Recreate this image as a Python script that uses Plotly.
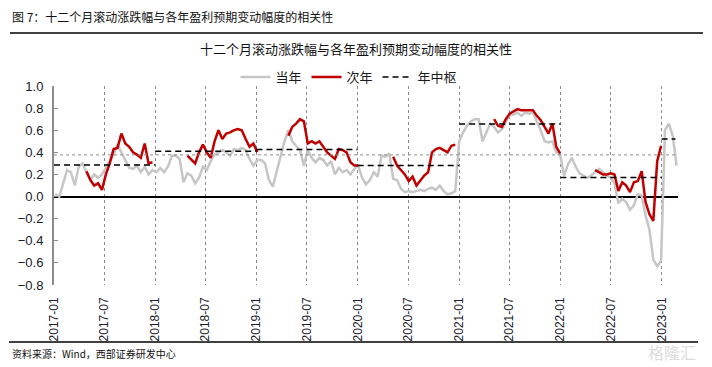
import pandas as pd
import plotly.graph_objects as go

# ---------------- data ----------------
DATES = pd.date_range("2017-01-06", periods=161, freq="14D")

CURRENT_YEAR = [  # 当年
    0.02, 0.00, 0.12, 0.24, 0.22, 0.10, 0.27, 0.30, 0.22, 0.15, 0.20, 0.17, 0.20,
    0.26, 0.33, 0.38, 0.47, 0.40, 0.33, 0.26, 0.25, 0.28, 0.22, 0.27, 0.20, 0.24,
    0.22, 0.26, 0.22, 0.27, 0.37, 0.37, 0.34, 0.13, 0.21, 0.19, 0.12, 0.17, 0.27,
    0.24, 0.32, 0.38, 0.40, 0.42, 0.40, 0.37, 0.43, 0.42, 0.44, 0.42, 0.34, 0.28,
    0.33, 0.33, 0.30, 0.15, 0.09, 0.22, 0.36, 0.50, 0.60, 0.50, 0.46, 0.42, 0.28,
    0.42, 0.35, 0.31, 0.35, 0.33, 0.28, 0.32, 0.20, 0.26, 0.22, 0.24, 0.20, 0.25,
    0.28, 0.17, 0.11, 0.15, 0.22, 0.18, 0.37, 0.36, 0.39, 0.16, 0.15, 0.07, 0.04,
    0.05, 0.04, 0.05, 0.06, 0.05, 0.07, 0.08, 0.06, 0.10, 0.05, 0.02, 0.03, 0.05,
    0.50, 0.58, 0.64, 0.68, 0.70, 0.70, 0.50, 0.58, 0.66, 0.63, 0.58, 0.61, 0.68,
    0.74, 0.74, 0.76, 0.73, 0.76, 0.75, 0.76, 0.68, 0.60, 0.50, 0.49, 0.50, 0.40,
    0.38, 0.19, 0.29, 0.35, 0.27, 0.21, 0.19, 0.17, 0.19, 0.22, 0.25, 0.22, 0.19,
    0.17, 0.12, -0.06, -0.02, -0.05, -0.12, -0.08, 0.02, 0.01, -0.17, -0.30, -0.57,
    -0.63, -0.58, 0.60, 0.66, 0.55, 0.28,
]

N = None
NEXT_YEAR = [  # 次年
    N, N, N, N, N, N, N, N, 0.23, 0.15, 0.10, 0.12, 0.06,
    0.20, 0.30, 0.43, 0.44, 0.57, 0.48, 0.45, 0.40, 0.38, 0.35, 0.48, 0.30, 0.31,
    N, N, N, N, N, N, N, N, 0.37, 0.33, 0.30, 0.40, 0.47,
    0.40, 0.35, 0.50, 0.60, 0.52, 0.57, 0.58, 0.60, 0.61, 0.60, 0.52, 0.45, 0.48,
    0.40, N, N, N, N, N, N, N, 0.55, 0.63, 0.66, 0.70, 0.68,
    0.48, 0.50, 0.48, 0.50, 0.45, 0.40, 0.37, 0.34, 0.43, 0.42, 0.40, 0.31, 0.28,
    0.28, N, N, N, N, N, N, N, N, 0.36, 0.28, 0.24, 0.20,
    0.14, 0.18, 0.10, 0.15, 0.19, 0.22, 0.40, 0.43, 0.44, 0.42, 0.40, 0.46, 0.47,
    N, N, N, N, N, N, N, N, N, 0.70, 0.64, 0.63, 0.70,
    0.75, 0.77, 0.79, 0.78, 0.78, 0.78, 0.78, 0.73, 0.69, 0.63, 0.57, 0.66, 0.45,
    0.39, N, N, N, N, N, N, N, N, 0.24, 0.22, 0.20, 0.20,
    0.21, 0.20, 0.05, 0.13, 0.10, 0.04, 0.13, 0.14, 0.23, -0.05, -0.16, -0.22,
    0.32, 0.46, N, N, N, N,
]

CENTER_YEARS = [2017, 2018, 2019, 2020, 2021, 2022, 2023]
CENTER_VALUES = [0.285, 0.41, 0.425, 0.28, 0.657, 0.172, 0.52]  # 年中枢
CENTER_LAST_END = "2023-02-20"
AVERAGE = 0.377

TICK_LABELS = ["2017-01", "2017-07", "2018-01", "2018-07", "2019-01", "2019-07",
               "2020-01", "2020-07", "2021-01", "2021-07", "2022-01", "2022-07",
               "2023-01"]

TITLE = "十二个月滚动涨跌幅与各年盈利预期变动幅度的相关性"
HEADER = "图 7：十二个月滚动涨跌幅与各年盈利预期变动幅度的相关性"
SOURCE = "资料来源：Wind，西部证券研发中心"

# ---------------- figure ----------------
CJK = "Noto Sans CJK SC"
W, H = 712, 367
L, R, T, B = 54, 34, 86, 82
PW, PH = W - L - R, H - T - B


def px(x):
    return (x - L) / PW


def py(y):
    return (H - B - y) / PH


cx, cy = [], []
for i, (yr, v) in enumerate(zip(CENTER_YEARS, CENTER_VALUES)):
    end = f"{yr + 1}-01-01" if i < len(CENTER_YEARS) - 1 else CENTER_LAST_END
    cx += [f"{yr}-01-01", end, None]
    cy += [v, v, None]

fig = go.Figure()
fig.add_trace(go.Scatter(x=DATES, y=CURRENT_YEAR, mode="lines", name="当年",
                         line=dict(color="#c6c6c6", width=2.5)))
fig.add_trace(go.Scatter(x=DATES, y=NEXT_YEAR, mode="lines", name="次年",
                         connectgaps=False,
                         line=dict(color="#c00000", width=2.5)))
fig.add_trace(go.Scatter(x=cx, y=cy, mode="lines", name="年中枢",
                         connectgaps=False,
                         line=dict(color="#000000", width=1.5, dash="6px,4px")))

fig.add_hline(y=AVERAGE, line=dict(color="#8c8c8c", width=1, dash="dot"))

fig.update_layout(
    width=W, height=H,
    margin=dict(l=L, r=R, t=T, b=B, autoexpand=False),
    paper_bgcolor="white", plot_bgcolor="white",
    font=dict(family="Liberation Sans, Arial", size=12, color="#1a1a1a"),
    showlegend=True,
    legend=dict(orientation="h", x=px(349), xanchor="center", y=py(77),
                yanchor="middle", font=dict(family=CJK, size=13, color="#1a1a1a"),
                itemwidth=30, tracegroupgap=0, bgcolor="rgba(0,0,0,0)"),
    xaxis=dict(type="date", range=["2017-01-01", "2023-03-01"],
               tickvals=[t + "-01" for t in TICK_LABELS], ticktext=TICK_LABELS,
               tickangle=-90, showgrid=True, gridcolor="#8c8c8c", griddash="dot",
               gridwidth=1, showline=False, ticks="", zeroline=False,
               ticklabelstandoff=9, automargin=False,
               tickfont=dict(family="Liberation Sans, Arial", size=12, color="#1a1a2a")),
    yaxis=dict(range=[-0.8, 1.0], dtick=0.2, tick0=0, tickformat=".1f",
               showgrid=False, showline=True, linecolor="#8c8c8c", linewidth=2,
               ticks="inside", ticklen=4, tickcolor="#8c8c8c",
               zeroline=True, zerolinecolor="#000000", zerolinewidth=1.5,
               ticklabelstandoff=6, automargin=False,
               tickfont=dict(family="Liberation Sans, Arial", size=13, color="#1a1a2a")),
)

fig.add_annotation(text=HEADER, xref="paper", yref="paper", x=px(10), y=py(17),
                   xanchor="left", yanchor="middle", showarrow=False,
                   font=dict(family=CJK, size=12, color="#111111"))
fig.add_annotation(text=TITLE, xref="paper", yref="paper", x=px(356), y=py(48),
                   xanchor="center", yanchor="middle", showarrow=False,
                   font=dict(family=CJK, size=13, color="#111111"))
fig.add_annotation(text=SOURCE, xref="paper", yref="paper", x=px(10), y=py(353),
                   xanchor="left", yanchor="middle", showarrow=False,
                   font=dict(family=CJK, size=10, color="#111111"))
fig.add_annotation(text="格隆汇", xref="paper", yref="paper", x=px(672), y=py(352),
                   xanchor="center", yanchor="middle", showarrow=False,
                   font=dict(family=CJK, size=16, color="#dcdcdc"))

fig.add_shape(type="line", xref="paper", yref="paper", x0=px(10), x1=px(703),
              y0=py(33), y1=py(33), line=dict(color="#000000", width=1.5))
fig.add_shape(type="line", xref="paper", yref="paper", x0=px(9), x1=px(698),
              y0=py(342), y1=py(342), line=dict(color="#000000", width=1.5))

fig.write_html("out.html", config={"displayModeBar": False},
               post_script="document.body.style.margin='0';"
                           "document.body.style.overflow='hidden';")
